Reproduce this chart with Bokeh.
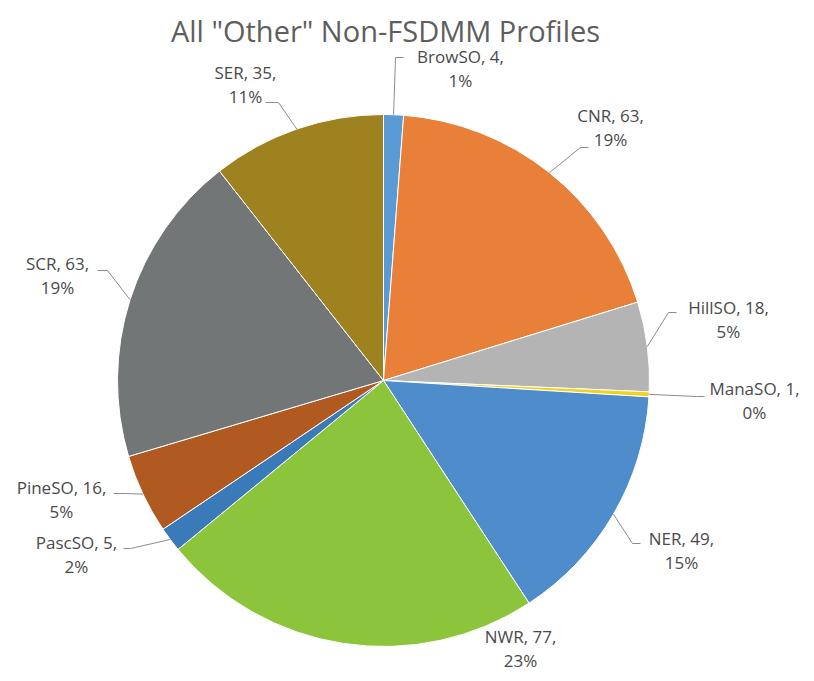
import math
from bokeh.plotting import figure
from bokeh.models import Range1d, ColumnDataSource
from bokeh.core.properties import value
from bokeh.embed import file_html
from bokeh.resources import INLINE

title_text = 'All "Other" Non-FSDMM Profiles'
categories = ["BrowSO", "CNR", "HillSO", "ManaSO", "NER", "NWR", "PascSO", "PineSO", "SCR", "SER"]
counts = [4, 63, 18, 1, 49, 77, 5, 16, 63, 35]
percent_labels = ["1%", "19%", "5%", "0%", "15%", "23%", "2%", "5%", "19%", "11%"]
colors = ["#5b9bd5", "#e8803a", "#b4b4b4", "#f2d21a", "#4f8ccc", "#8cc43c",
          "#3a7ab8", "#b05a22", "#737676", "#9e821f"]

# layout (image pixel coordinates; y measured downward)
CX, CY, R = 383, 380, 266
label_pos = [(460, 56), (610, 115), (728, 307), (754, 388), (681, 538),
             (520, 636), (76, 542), (61, 487), (57, 263), (245, 72)]
elbows = [(395, 57), (580, 147), (668, 312), (696, 396), (632, 543),
          None, (130, 548), (125, 493), (107, 270), (278, 102)]
ends = [(704, 396), (588, 147), (676, 312), (704, 396), (640, 543),
        None, (123, 548), (113, 493), (97, 270), (265, 102)]
ends[0] = (403, 57)

total = sum(counts)
starts, stops, mids = [], [], []
acc = 0
for c in counts:
    a0 = math.pi / 2 - 2 * math.pi * acc / total
    a1 = math.pi / 2 - 2 * math.pi * (acc + c) / total
    starts.append(a0)
    stops.append(a1)
    mids.append((a0 + a1) / 2)
    acc += c

W, H = 806, 673
p = figure(width=W, height=H, output_backend="svg", toolbar_location=None,
           x_range=Range1d(0, W), y_range=Range1d(-H, 0), min_border=0)
p.axis.visible = False
p.grid.visible = False
p.outline_line_color = None
p.background_fill_color = "white"

src = ColumnDataSource(dict(start=starts, end=stops, color=colors))
p.wedge(x=CX, y=-CY, radius=R, start_angle="start", end_angle="end",
        direction="clock", fill_color="color", line_color="white", line_width=1,
        source=src)

# leader lines
xs, ys = [], []
for m, el, en in zip(mids, elbows, ends):
    if el is None:
        continue
    sx = CX + R * math.cos(m)
    sy = -CY + R * math.sin(m)
    xs.append([sx, el[0], en[0]])
    ys.append([sy, -el[1], -en[1]])
p.multi_line(xs=xs, ys=ys, line_color="#8c8c8c", line_width=1)

line1 = [f"{c}, {n}," for c, n in zip(categories, counts)]
lx = [q[0] for q in label_pos]
ly1 = [-q[1] for q in label_pos]
ly2 = [-(q[1] + 24) for q in label_pos]
p.text(x=lx, y=ly1, text=line1, text_align="center", text_baseline="middle",
       text_font=value("Open Sans"), text_font_size="17px", text_color="#4a4a4a")
p.text(x=lx, y=ly2, text=percent_labels, text_align="center", text_baseline="middle",
       text_font=value("Open Sans"), text_font_size="17px", text_color="#4a4a4a")

p.text(x=[385], y=[-30], text=[title_text], text_align="center", text_baseline="middle",
       text_font=value("Open Sans"), text_font_size="29px", text_color="#5e5e5e")

open("out.html", "w").write(file_html(p, INLINE))
